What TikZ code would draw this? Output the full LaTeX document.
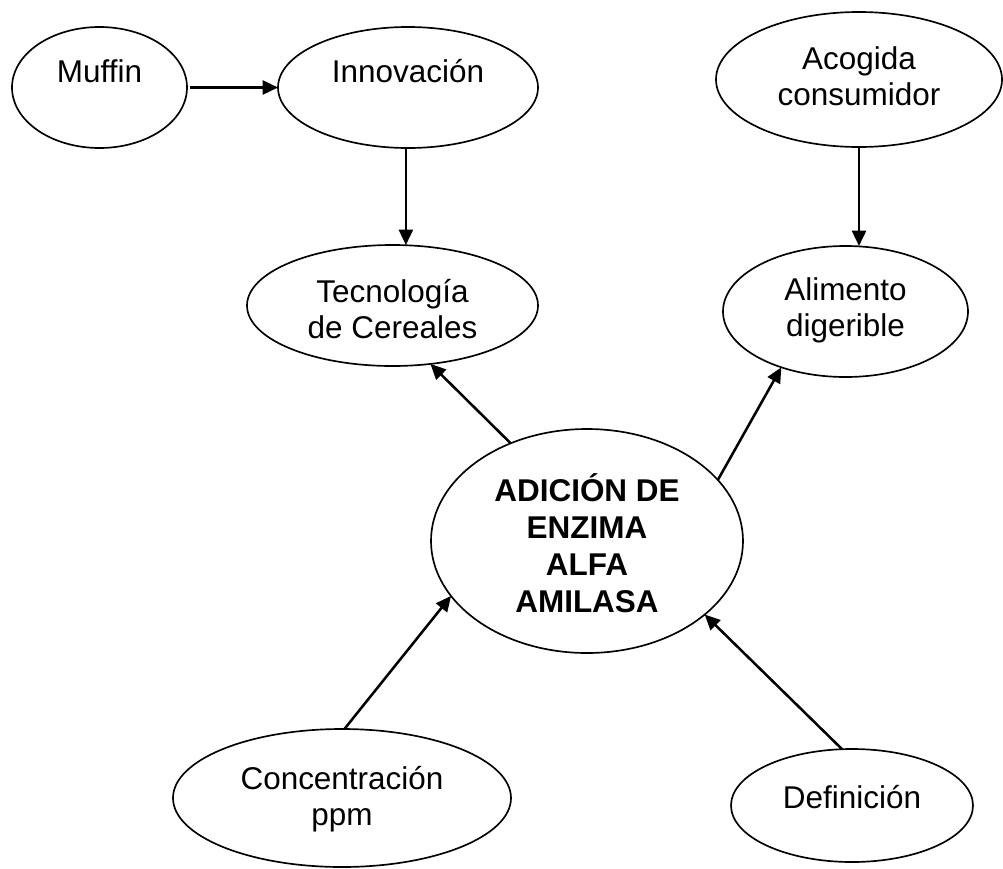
\documentclass[tikz,border=0pt]{standalone}
\usepackage{fontspec}
\setmainfont{Liberation Sans}
\usetikzlibrary{arrows.meta,shapes.geometric}
\begin{document}
\begin{tikzpicture}[x=0.75pt,y=-0.75pt,
  ell/.style={draw,ellipse,line width=1.25pt,inner sep=0pt,outer sep=0pt},
  txt/.style={align=center,inner sep=0pt,font=\fontsize{23.6}{27}\selectfont},
  btxt/.style={align=center,inner sep=0pt,font=\fontsize{23.6}{27.75}\selectfont\bfseries},
  arr/.style={line width=1.9pt,-{Triangle[length=11.5pt,width=10.5pt]}}]
\useasboundingbox (0,0) rectangle (1003,868);
% ellipses
\node[ell,minimum width=131.25pt,minimum height=90.75pt] (muffin) at (99.5,87.5) {};
\node[ell,minimum width=195pt,minimum height=90.75pt] (innov) at (408,87.5) {};
\node[ell,minimum width=214.5pt,minimum height=101.25pt] (acog) at (859,79.5) {};
\node[ell,minimum width=218.25pt,minimum height=90.75pt] (tec) at (392.5,305.5) {};
\node[ell,minimum width=183.75pt,minimum height=98.25pt] (alim) at (845.5,311.5) {};
\node[ell,minimum width=234pt,minimum height=168pt] (central) at (587,541) {};
\node[ell,minimum width=253.5pt,minimum height=103.5pt] (conc) at (342,798) {};
\node[ell,minimum width=181.5pt,minimum height=84.75pt] (defin) at (852,805.5) {};
% texts
\node[txt] (muffint) at (99.5,71) {Muffin};
\node[txt] (innovt) at (408,71) {Innovación};
\node[txt] (acogt) at (859,76.5) {Acogida\\consumidor};
\node[txt] (tect) at (392.5,309.5) {Tecnología\\de Cereales};
\node[txt] (alimt) at (845.5,310.5) {Alimento\\digerible};
\node[btxt] (centralt) at (587,543) {ADICIÓN DE\\ENZIMA\\ALFA\\AMILASA};
\node[txt] (conct) at (342,799) {Concentración\\ppm};
\node[txt] (defint) at (852,797) {Definición};
% connectors
\draw[arr,shorten <=2pt] (muffin.east) -- (innov.west);
\draw[arr] (innov.-92) -- (innov.-92 |- tec.north);
\draw[arr] (acog.south) -- (acog.south |- alim.north);
\draw[arr] (central.128.5) -- (tec.-57);
\draw[arr] (central.25.7) -- (alim.221.7);
\draw[arr] (conc.88) -- (central.202);
\draw[arr] (defin.100) -- (central.-32.5);
\end{tikzpicture}
\end{document}
